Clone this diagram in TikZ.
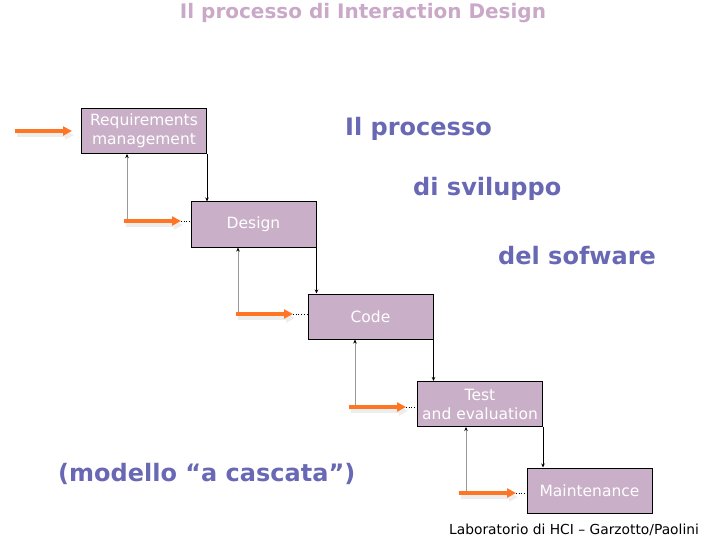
\documentclass[tikz,border=0pt]{standalone}
\usepackage{fontspec}
\setmainfont{DejaVu Sans}
\usetikzlibrary{arrows.meta}
\definecolor{boxfill}{HTML}{CAAFC8}
\definecolor{titlecol}{HTML}{C9A8C8}
\definecolor{bluecol}{HTML}{6868B4}
\definecolor{orangecol}{HTML}{FF7524}
\begin{document}
\begin{tikzpicture}[x=1pt,y=-1pt,
  phase/.style={draw=black,line width=1pt,fill=boxfill,text=white,minimum width=125pt,minimum height=45pt,align=center,inner sep=1pt,font=\fontsize{15.5}{19}\selectfont},
  down/.style={draw=black,line width=0.8pt,-{Stealth[length=4pt,width=3.5pt]}},
  back/.style={draw=gray!80,line width=0.8pt,-{Stealth[length=4pt,width=3.5pt,color=black]}},
  feed/.style={draw=orangecol,line width=3.5pt,-{Triangle[length=9pt,width=9pt]}},
  feedshadow/.style={draw=black!7,line width=4pt,-{Triangle[length=9pt,width=9pt]}},
  dots/.style={draw=black,dotted,line width=0.7pt},
  bigtxt/.style={text=bluecol,font=\bfseries\fontsize{24}{28}\selectfont,inner sep=0pt}]
\useasboundingbox (0,0) rectangle (720,540);
\node[phase] (req) at (144,131) {Requirements\\management};
\node[phase] (des) at (253.5,224.5) {Design};
\node[phase] (cod) at (370.5,316.5) {Code};
\node[phase] (tst) at (480,404) {Test\\and evaluation};
\node[phase] (mnt) at (589.5,490.5) {Maintenance};
% down arrows
\draw[down] (req.north east |- req.south) -- (req.east |- des.north);
\draw[down] (des.north east |- des.south) -- (des.east |- cod.north);
\draw[down] (cod.north east |- cod.south) -- (cod.east |- tst.north);
\draw[down] (tst.north east |- tst.south) -- (tst.east |- mnt.north);
% feedback
\coordinate (s0) at (15,131);
\coordinate (e0) at (72,131);
\coordinate (s1) at (124,221);
\coordinate (e1) at (181,221);
\coordinate (s2) at (236,314);
\coordinate (e2) at (293,314);
\coordinate (s3) at (349,407);
\coordinate (e3) at (406,407);
\coordinate (s4) at (459,493);
\coordinate (e4) at (516,493);
\coordinate (u1) at (127,154);
\coordinate (u2) at (238,247.5);
\coordinate (u3) at (355,339.5);
\coordinate (u4) at (466,427);
\draw[back] (127,221) -- (u1);
\draw[back] (238,314) -- (u2);
\draw[back] (355,407) -- (u3);
\draw[back] (466,493) -- (u4);
\foreach \i in {0,...,4}{
  \draw[feedshadow] ([shift={(2,4)}]s\i) -- ([shift={(2,4)}]e\i);
  \draw[feed] (s\i) -- (e\i);
}
\draw[dots] (e1) -- (des.west |- e1);
\draw[dots] (e2) -- (cod.west |- e2);
\draw[dots] (e3) -- (tst.west |- e3);
\draw[dots] (e4) -- (mnt.west |- e4);
% texts
\node[text=titlecol,font=\bfseries\fontsize{20}{24}\selectfont] (title) at (363,13) {Il processo di Interaction Design};
\node[bigtxt,anchor=west] (t1) at (345,129) {Il processo};
\node[bigtxt,anchor=west] (t2) at (413,189) {di sviluppo};
\node[bigtxt,anchor=west] (t3) at (498,256) {del sofware};
\node[bigtxt,anchor=west] (t4) at (58,474) {(modello “a cascata”)};
\node[anchor=west,font=\fontsize{13.8}{16}\selectfont,inner sep=0pt] (foot) at (449,530) {Laboratorio di HCI – Garzotto/Paolini};
\end{tikzpicture}
\end{document}
